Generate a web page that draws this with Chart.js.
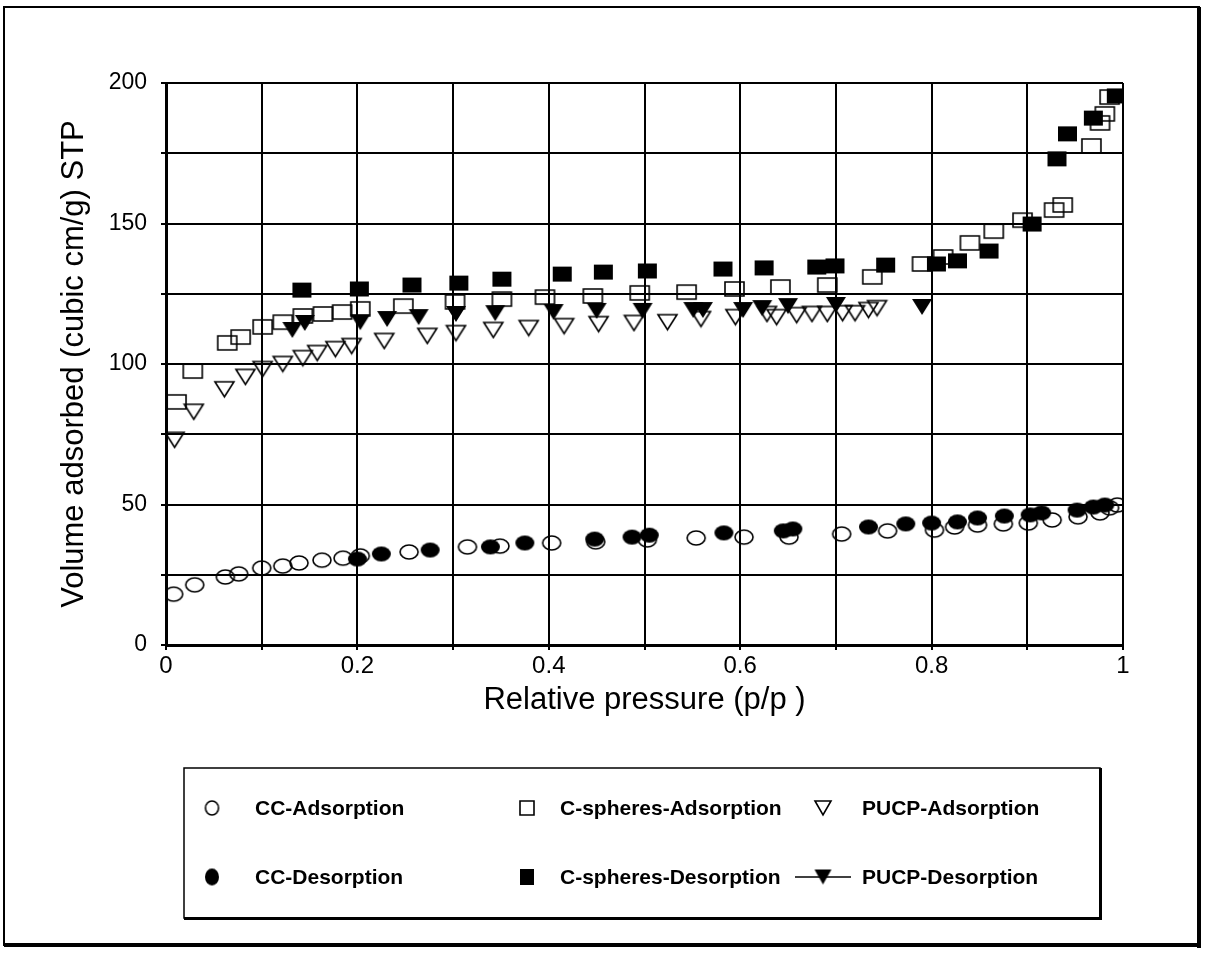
<!DOCTYPE html>
<html>
<head>
<meta charset="utf-8">
<script src="https://cdn.jsdelivr.net/npm/chart.js@4.4.0/dist/chart.umd.min.js"></script>
<style>
  html, body { margin: 0; padding: 0; background: #fff; }
  #wrap { width: 1205px; height: 955px; }
</style>
</head>
<body>
<div id="wrap"><canvas id="isotherm" width="1205" height="955"></canvas></div>
<script>
// nitrogen isotherms, relative pressure vs volume adsorbed
let ccAdsX = [0.008, 0.030, 0.062, 0.076, 0.100, 0.122, 0.139, 0.163, 0.185, 0.203, 0.254, 0.315, 0.349, 0.403, 0.449, 0.503, 0.554, 0.604, 0.651, 0.706, 0.754, 0.803, 0.824, 0.848, 0.875, 0.901, 0.926, 0.953, 0.976, 0.986, 0.994];
let ccAdsY = [18.1, 21.4, 24.2, 25.3, 27.4, 28.1, 29.2, 30.2, 30.9, 31.7, 33.1, 34.9, 35.2, 36.3, 36.7, 37.4, 38.1, 38.4, 38.4, 39.5, 40.6, 40.9, 42.0, 42.7, 43.1, 43.4, 44.5, 45.6, 47.0, 48.8, 49.8];

let ccDesX = [0.200, 0.225, 0.276, 0.339, 0.375, 0.448, 0.487, 0.505, 0.583, 0.645, 0.655, 0.734, 0.773, 0.800, 0.827, 0.848, 0.876, 0.903, 0.915, 0.952, 0.969, 0.981];
let ccDesY = [30.6, 32.4, 33.8, 34.9, 36.3, 37.7, 38.4, 39.1, 39.9, 40.6, 41.3, 42.0, 43.1, 43.4, 43.8, 45.2, 45.9, 46.3, 47.0, 48.0, 49.1, 49.8];

let csAdsX = [0.011, 0.028, 0.064, 0.078, 0.101, 0.122, 0.143, 0.164, 0.184, 0.203, 0.248, 0.302, 0.351, 0.396, 0.446, 0.495, 0.544, 0.594, 0.642, 0.691, 0.738, 0.790, 0.812, 0.840, 0.865, 0.895, 0.928, 0.937, 0.967, 0.976, 0.981, 0.986];
let csAdsY = [86.5, 97.5, 107.5, 109.6, 113.2, 114.9, 117.1, 117.8, 118.5, 119.6, 120.6, 122.1, 123.1, 123.8, 124.2, 125.3, 125.6, 126.7, 127.4, 128.1, 131.0, 135.6, 138.1, 143.1, 147.3, 151.2, 154.8, 156.6, 177.6, 185.8, 189.0, 195.0];

let csDesX = [0.142, 0.202, 0.257, 0.306, 0.351, 0.414, 0.457, 0.503, 0.582, 0.625, 0.680, 0.699, 0.752, 0.805, 0.827, 0.860, 0.905, 0.931, 0.942, 0.969, 0.993];
let csDesY = [126.3, 126.7, 128.1, 128.8, 130.2, 132.0, 132.7, 133.1, 133.8, 134.2, 134.5, 134.9, 135.2, 135.6, 136.7, 140.2, 149.8, 173.0, 181.9, 187.5, 195.4];

let pucpAdsX = [0.009, 0.029, 0.061, 0.083, 0.101, 0.122, 0.143, 0.158, 0.177, 0.194, 0.228, 0.273, 0.303, 0.342, 0.379, 0.416, 0.452, 0.489, 0.524, 0.559, 0.595, 0.628, 0.638, 0.659, 0.675, 0.691, 0.707, 0.720, 0.734, 0.743];
let pucpAdsY = [73.0, 83.0, 91.0, 95.4, 98.2, 100.0, 102.1, 103.9, 105.3, 106.4, 108.2, 110.0, 111.0, 112.1, 112.8, 113.5, 114.2, 114.6, 114.9, 116.0, 116.7, 117.8, 116.7, 117.4, 117.8, 117.8, 118.1, 118.1, 119.2, 119.9];

let pucpDesX = [0.132, 0.145, 0.203, 0.231, 0.264, 0.303, 0.344, 0.405, 0.450, 0.498, 0.551, 0.561, 0.603, 0.623, 0.650, 0.700, 0.790];
let pucpDesY = [112.1, 114.6, 114.9, 116.0, 116.7, 117.8, 118.1, 118.5, 118.9, 118.9, 119.2, 119.2, 119.2, 119.9, 120.6, 121.0, 120.3];

let seriesNames = ["CC-Adsorption", "CC-Desorption", "C-spheres-Adsorption", "C-spheres-Desorption", "PUCP-Adsorption", "PUCP-Desorption"];

function toPoints(xs, ys) {
    return xs.map((x, i) => ({x: x, y: ys[i]}));
}

// markers are a bit wider than tall, so draw them on small canvases
function makeMarker(shape, filled, w, h) {
    let c = document.createElement('canvas');
    c.width = w + 4;
    c.height = h + 4;
    let ctx = c.getContext('2d');
    ctx.lineWidth = 1.6;
    ctx.strokeStyle = '#000';
    ctx.fillStyle = '#000';
    let cx = c.width / 2, cy = c.height / 2;
    ctx.beginPath();
    if (shape == 'circle') {
        ctx.ellipse(cx, cy, w / 2, h / 2, 0, 0, Math.PI * 2);
    } else if (shape == 'square') {
        ctx.rect(cx - w / 2, cy - h / 2, w, h);
    } else {
        // triangle pointing down
        ctx.moveTo(cx - w / 2, cy - h / 2);
        ctx.lineTo(cx + w / 2, cy - h / 2);
        ctx.lineTo(cx, cy + h / 2);
        ctx.closePath();
    }
    if (filled) ctx.fill();
    else ctx.stroke();
    return c;
}

let markers = [
    makeMarker('circle', false, 18, 14),
    makeMarker('circle', true, 19, 15),
    makeMarker('square', false, 19, 14),
    makeMarker('square', true, 19, 15),
    makeMarker('triangle', false, 19, 15),
    makeMarker('triangle', true, 20, 16)
];

// smaller versions for the legend box
let legendMarkers = [
    makeMarker('circle', false, 13, 14),
    makeMarker('circle', true, 14, 17),
    makeMarker('square', false, 14, 14),
    makeMarker('square', true, 14, 16),
    makeMarker('triangle', false, 16, 14),
    makeMarker('triangle', true, 17, 15)
];

let seriesData = [
    toPoints(ccAdsX, ccAdsY),
    toPoints(ccDesX, ccDesY),
    toPoints(csAdsX, csAdsY),
    toPoints(csDesX, csDesY),
    toPoints(pucpAdsX, pucpAdsY),
    toPoints(pucpDesX, pucpDesY)
];

const fontFamily = '"Liberation Sans", Arial, sans-serif';

// outer frame and the boxed legend under the plot
const framePlugin = {
    id: 'frameAndLegend',
    afterDraw(chart) {
        let ctx = chart.ctx;
        ctx.save();
        ctx.strokeStyle = '#000';
        ctx.fillStyle = '#000';
        // page frame, heavier on right and bottom
        ctx.lineWidth = 2;
        ctx.strokeRect(4, 7, 1195, 938);
        ctx.fillRect(1197, 7, 4, 941);
        ctx.fillRect(4, 943, 1197, 4);

        // legend box
        ctx.lineWidth = 1.5;
        ctx.strokeRect(184, 768, 916, 150);
        ctx.fillRect(1099, 768, 3, 152);
        ctx.fillRect(184, 917, 918, 3);

        let colMarker = [212, 527, 823];
        let colText = [255, 560, 862];
        let rowY = [808, 877];
        ctx.font = 'bold 21px ' + fontFamily;
        ctx.textBaseline = 'middle';
        ctx.textAlign = 'left';
        let order = [[0, 2, 4], [1, 3, 5]];
        for (let r = 0; r < 2; r++) {
            for (let c = 0; c < 3; c++) {
                let idx = order[r][c];
                if (idx == 5) {
                    // PUCP desorption is keyed with a line through the marker
                    ctx.lineWidth = 1.5;
                    ctx.beginPath();
                    ctx.moveTo(colMarker[c] - 28, rowY[r]);
                    ctx.lineTo(colMarker[c] + 28, rowY[r]);
                    ctx.stroke();
                }
                let lm = legendMarkers[idx];
                ctx.drawImage(lm, colMarker[c] - lm.width / 2, rowY[r] - lm.height / 2);
                ctx.fillText(seriesNames[idx], colText[c], rowY[r] + 1);
            }
        }
        ctx.restore();
    }
};

const isoPlot = new Chart("isotherm", {
    type: 'scatter',
    data: {
        datasets: seriesData.map((d, i) => ({
            label: seriesNames[i],
            data: d,
            pointStyle: markers[i],
            showLine: false
        }))
    },
    options: {
        responsive: false,
        animation: false,
        layout: {
            padding: {left: 52, top: 83, right: 82, bottom: 232}
        },
        scales: {
            x: {
                type: 'linear',
                min: 0,
                max: 1,
                afterFit: (scale) => { scale.height = 78; },
                ticks: {
                    stepSize: 0.1,
                    color: '#000',
                    padding: 2,
                    maxRotation: 0,
                    font: {family: fontFamily, size: 24},
                    callback: (v) => {
                        let r = Math.round(v * 10);
                        if (r % 2 != 0) return '';
                        return r == 10 ? '1' : (r == 0 ? '0' : (r / 10).toString());
                    }
                },
                grid: {color: '#000', lineWidth: 2, tickLength: 5},
                border: {color: '#000', width: 3},
                title: {
                    display: true,
                    text: 'Relative pressure (p/p )',
                    color: '#000',
                    padding: {top: 0, bottom: 4},
                    font: {family: fontFamily, size: 31}
                }
            },
            y: {
                type: 'linear',
                min: 0,
                max: 200,
                afterFit: (scale) => { scale.width = 114; },
                ticks: {
                    stepSize: 25,
                    color: '#000',
                    padding: 14,
                    font: {family: fontFamily, size: 23},
                    callback: (v) => (v % 50 == 0 ? v.toString() : '')
                },
                grid: {color: '#000', lineWidth: 2, tickLength: 5},
                border: {color: '#000', width: 3},
                title: {
                    display: true,
                    text: 'Volume adsorbed (cubic cm/g) STP',
                    color: '#000',
                    padding: {top: 4, bottom: 0},
                    font: {family: fontFamily, size: 31}
                }
            }
        },
        plugins: {
            legend: {display: false},
            tooltip: {enabled: false}
        }
    },
    plugins: [framePlugin]
});
</script>
</body>
</html>
